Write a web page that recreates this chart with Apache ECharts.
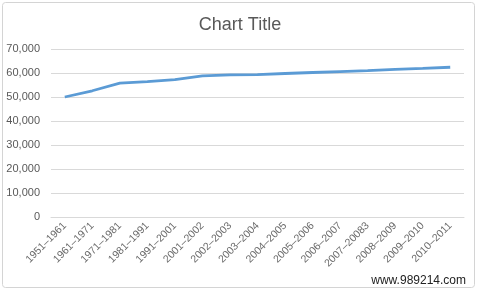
<!DOCTYPE html>
<html><head><meta charset="utf-8">
<script src="https://cdn.jsdelivr.net/npm/echarts@6/dist/echarts.min.js"></script>
<style>html,body{margin:0;padding:0;background:#fff}#c{width:480px;height:291px}</style>
</head><body><div id="c"></div>
<script>
const categories = ["1951–1961","1961–1971","1971–1981","1981–1991","1991–2001","2001–2002","2002–2003","2003–2004","2004–2005","2005–2006","2006–2007","2007–20083","2008–2009","2009–2010","2010–2011"];
const values = [50000,52600,55800,56400,57200,58800,59200,59300,59800,60200,60600,61000,61500,61900,62400];
const yTicks = {min:0,max:70000,interval:10000};
const font = "'Liberation Sans', Arial, sans-serif";
const chart = echarts.init(document.getElementById('c'));
chart.setOption({
  animation:false,
  title:{text:'Chart Title',left:'center',top:11,textStyle:{fontFamily:font,fontSize:18,fontWeight:'normal',color:'#595959'}},
  grid:{left:51,right:16,top:49,bottom:74,containLabel:false},
  xAxis:{type:'category',data:categories,boundaryGap:true,
    axisLine:{lineStyle:{color:'#d9d9d9'}},axisTick:{show:false},
    axisLabel:{rotate:45,interval:0,fontFamily:font,fontSize:10.5,color:'#6b6b6b',margin:7}},
  yAxis:{type:'value',min:yTicks.min,max:yTicks.max,interval:yTicks.interval,
    axisLine:{show:false},axisTick:{show:false},
    splitLine:{lineStyle:{color:'#d9d9d9'}},
    axisLabel:{fontFamily:font,fontSize:11,color:'#595959',margin:11,
      formatter:v=>v.toLocaleString('en-US')}},
  series:[{type:'line',data:values,symbol:'none',lineStyle:{color:'#5b9bd5',width:2.8}}],
  graphic:[
    {type:'rect',shape:{x:2.5,y:2.5,width:472,height:285,r:3},style:{fill:'none',stroke:'#d4d4d4',lineWidth:1},silent:true},
    {type:'text',right:14,top:275,style:{text:'www.989214.com',font:"12px "+font,fill:'#222'}}
  ]
});
</script></body></html>
